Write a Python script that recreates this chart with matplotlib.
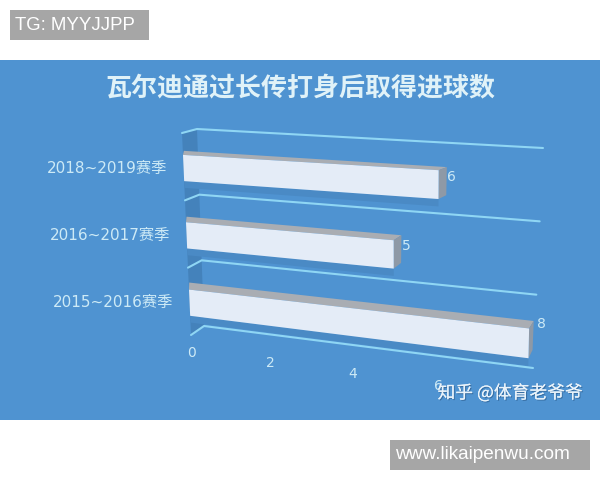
import numpy as np
import matplotlib
matplotlib.use("Agg")
import matplotlib.pyplot as plt
import matplotlib.patheffects as pe
from matplotlib.patches import Polygon, Rectangle

# =========================
# Data
# =========================

title = "瓦尔迪通过长传打身后取得进球数"
seasons = ["2015~2016赛季", "2016~2017赛季", "2018~2019赛季"]
goals = [8, 5, 6]
x_ticks = [0, 2, 4, 6]
tag_left = "TG: MYYJJPP"
tag_right = "www.likaipenwu.com"
watermark = "知乎 @体育老爷爷"

# =========================
# Fake 3D projection (value, row, depth) -> picture pixels
# =========================

V_MAX = 8
PERSP = -0.0114
ROWS = len(seasons)

# corners: (value 0, row 0), (value 0, row top), (value max, row 0), (value max, row top)
FRONT = np.array([[191, 335], [182, 133], [528, 380], [533, 151]], dtype=float)
BACK = np.array([[204, 326], [197, 129], [533, 368], [543, 148]], dtype=float)


def proj(v, u, d=0.0):
    t = v * (1 + V_MAX * PERSP) / (V_MAX * (1 + PERSP * v))
    s = u / ROWS
    q = FRONT + (BACK - FRONT) * d
    left = q[0] + (q[1] - q[0]) * s
    right = q[2] + (q[3] - q[2]) * s
    return tuple(left + (right - left) * t)


def poly(ax, pts, color, z):
    ax.add_patch(Polygon(pts, closed=True, facecolor=color, edgecolor="none", zorder=z))


BLUE = "#4f93d1"
WALL = "#4482bb"
SHADOW = "#4a8ac5"
GRID = "#8fd6f4"
FACE = "#e4ecf7"
TOP = "#a9adb3"
SIDE = "#8e99a6"
PALE = "#cdeaf6"

BAR_MID = 0.48
BAR_HALF = 0.195
BAR_DEPTH = 0.75
label_dy = [-19, -8, -8]

plt.rcParams["font.family"] = ["DejaVu Sans", "Noto Sans CJK SC"]

fig = plt.figure(figsize=(6, 4.8), dpi=100, facecolor="white")
ax = fig.add_axes([0, 0, 1, 1])
ax.set_xlim(0, 600)
ax.set_ylim(480, 0)
ax.axis("off")

# background panel
ax.add_patch(Rectangle((0, 60), 600, 360, facecolor=BLUE, edgecolor="none", zorder=0))

# left wall
poly(ax, [proj(0, 0), proj(0, ROWS), proj(0, ROWS, 1), proj(0, 0, 1)], WALL, 1)

# bars
for i, (name, val) in enumerate(zip(seasons, goals)):
    lo = i + BAR_MID - BAR_HALF
    hi = i + BAR_MID + BAR_HALF

    poly(ax, [proj(0, lo), proj(val, lo), proj(val, lo - 0.1), proj(0, lo - 0.1)], SHADOW, 2)
    poly(ax, [proj(0, hi), proj(val, hi), proj(val, hi, BAR_DEPTH), proj(-0.26, hi, BAR_DEPTH)], TOP, 4)
    poly(ax, [proj(val, hi), proj(val, hi, BAR_DEPTH), proj(val, lo, BAR_DEPTH), proj(val, lo)], SIDE, 4)
    poly(ax, [proj(0, lo), proj(val, lo), proj(val, hi), proj(0, hi)], FACE, 5)

    # season label
    lx, ly = proj(0, i + BAR_MID)
    ax.text(lx - 16, ly, name, ha="right", va="center", fontsize=11, color=PALE, zorder=6)

    # value label
    vx, vy = proj(val, i + BAR_MID)
    ax.text(vx + 13, vy + label_dy[i], str(val), ha="center", va="center",
            fontsize=10, color=PALE, zorder=6)

# gridlines
for r in range(ROWS + 1):
    pts = np.array([proj(0, r), proj(0, r, 1), proj(V_MAX, r, 1)])
    ax.plot(pts[:, 0], pts[:, 1], color=GRID, lw=1.5, zorder=3, solid_capstyle="round")

# value axis tick labels
for v in x_ticks:
    tx, ty = proj(v, 0)
    ax.text(tx + 1, ty + 18, str(v), ha="center", va="center", fontsize=10, color=PALE, zorder=6)

ax.text(300, 88, title, ha="center", va="center", fontsize=18.7, fontweight="bold",
        color="#e0f2f8", family=["Noto Sans CJK SC", "DejaVu Sans"], zorder=6)

ax.text(510, 393, watermark, ha="center", va="center", fontsize=12.8, color="#eaf3fa",
        family=["Noto Sans CJK SC", "DejaVu Sans"], zorder=7,
        path_effects=[pe.withSimplePatchShadow(offset=(0.8, -0.8), shadow_rgbFace="#2f5f8f", alpha=0.7),
                      pe.Normal()])

# tags above and below the picture
ax.add_patch(Rectangle((10, 10), 139, 30, facecolor="#a6a6a6", edgecolor="none", zorder=6))
ax.text(15, 25.5, tag_left, ha="left", va="center", fontsize=13.4, color="white",
        family=["Liberation Sans"], zorder=7)
ax.add_patch(Rectangle((390, 440), 200, 30, facecolor="#a6a6a6", edgecolor="none", zorder=6))
ax.text(395, 454.5, tag_right, ha="left", va="center", fontsize=13.7, color="white",
        family=["Liberation Sans"], zorder=7)

fig.savefig("out.png", dpi=100)
